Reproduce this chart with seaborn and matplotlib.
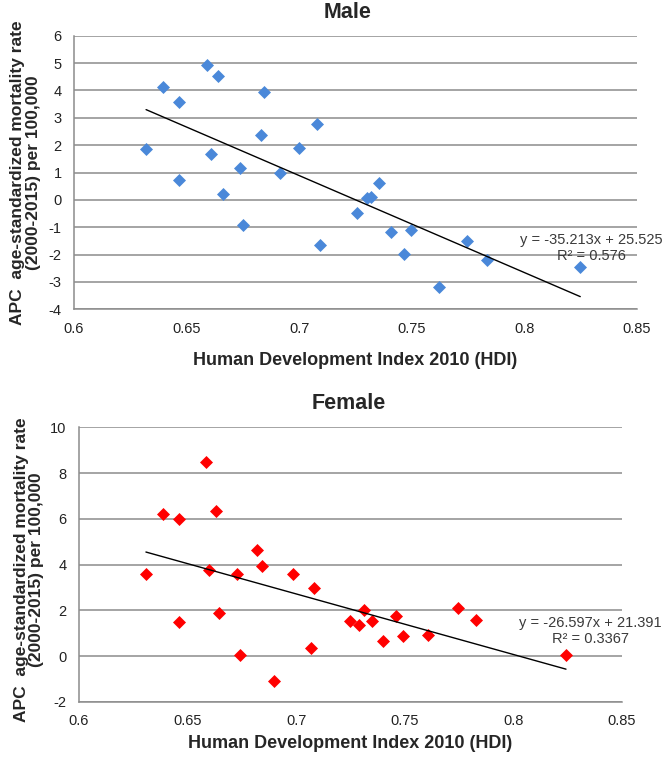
import matplotlib
matplotlib.use("Agg")
import matplotlib.pyplot as plt
import seaborn as sns

# values (HDI 2010 vs APC of mortality rate)
male_hdi = [0.632, 0.6397, 0.6468, 0.6468, 0.6589, 0.6639, 0.6608, 0.6663,
            0.6737, 0.6752, 0.6829, 0.6845, 0.6913, 0.7001, 0.7079, 0.7091,
            0.7258, 0.7300, 0.7319, 0.7356, 0.7408, 0.7496, 0.7464, 0.7619,
            0.7747, 0.7835, 0.8248]
male_apc = [1.85, 4.11, 3.59, 0.73, 4.92, 4.53, 1.68, 0.20,
            1.15, -0.92, 2.36, 3.95, 0.99, 1.88, 2.78, -1.66,
            -0.49, 0.06, 0.12, 0.62, -1.17, -1.11, -1.98, -3.20,
            -1.49, -2.20, -2.45]

female_hdi = [0.6308, 0.6388, 0.6462, 0.6462, 0.6583, 0.6629, 0.6600, 0.6646,
              0.6726, 0.6743, 0.6821, 0.6843, 0.6899, 0.6987, 0.7082, 0.7067,
              0.7248, 0.7288, 0.7311, 0.7351, 0.7401, 0.7459, 0.7490, 0.7608,
              0.7743, 0.7829, 0.8242]
female_apc = [3.60, 6.20, 5.99, 1.49, 8.48, 6.33, 3.77, 1.89,
              3.60, 0.04, 4.62, 3.92, -1.11, 3.60, 2.97, 0.35,
              1.51, 1.36, 2.02, 1.51, 0.67, 1.77, 0.86, 0.92,
              2.08, 1.58, 0.04]

x_ticks = [0.6, 0.65, 0.7, 0.75, 0.8, 0.85]
x_tick_labels = ["0.6", "0.65", "0.7", "0.75", "0.8", "0.85"]
male_yticks = [-4, -3, -2, -1, 0, 1, 2, 3, 4, 5, 6]
female_yticks = [-2, 0, 2, 4, 6, 8, 10]

male_eq = "y = -35.213x + 25.525\nR² = 0.576"
female_eq = "y = -26.597x + 21.391\nR² = 0.3367"

x_label = "Human Development Index 2010 (HDI)"
y_label = "APC  age-standardized mortality rate\n(2000-2015) per 100,000"

BOLD_FONT = ["Liberation Sans Narrow", "Liberation Sans", "DejaVu Sans"]
GRID = "#8c8c8c"


def plot_panel(ax, hdi, apc, color, yticks, eq, eq_xy, xlab_y, ylab_xy):
    """Scatter of APC vs HDI with a linear trend line, Excel style."""
    sns.scatterplot(x=hdi, y=apc, ax=ax, marker="D", color=color, s=44,
                    linewidth=0, zorder=3)
    sns.regplot(x=hdi, y=apc, ax=ax, scatter=False, ci=None, truncate=True,
                color="black", line_kws={"linewidth": 1.0, "zorder": 4})

    ax.set_xlim(x_ticks[0], x_ticks[-1])
    ax.set_ylim(yticks[0], yticks[-1])
    ax.set_xticks(x_ticks)
    ax.set_xticklabels(x_tick_labels)
    ax.set_yticks(yticks)
    ax.tick_params(length=0, labelsize=10.5, pad=9, colors="#222222")

    ax.yaxis.grid(True, color=GRID, linewidth=1.1)
    ax.xaxis.grid(False)
    for side in ["top", "right"]:
        ax.spines[side].set_visible(False)
    for side in ["left", "bottom"]:
        ax.spines[side].set_color(GRID)
        ax.spines[side].set_linewidth(1.1)

    ax.set_xlabel(x_label, family=BOLD_FONT, fontweight="bold", fontsize=13,
                  va="center")
    ax.xaxis.set_label_coords(0.5, xlab_y)
    ax.set_ylabel(y_label, family=BOLD_FONT, fontweight="bold", fontsize=12.5,
                  va="center", ha="center", linespacing=1.05)
    ax.yaxis.set_label_coords(*ylab_xy)

    ax.text(eq_xy[0], eq_xy[1], eq, ha="center", va="center", fontsize=10.5,
            color="#3a3a3a", linespacing=1.15, zorder=5)


sns.set_style("white")
plt.rcParams["font.family"] = ["Liberation Sans", "DejaVu Sans"]
plt.rcParams["axes.unicode_minus"] = False

fig = plt.figure(figsize=(6.68, 7.57), dpi=100)
ax_male = fig.add_axes([0.1108, 0.5914, 0.8428, 0.3614])
ax_female = fig.add_axes([0.1183, 0.0730, 0.8129, 0.3625])

plot_panel(ax_male, male_hdi, male_apc, "#4a88d9", male_yticks, male_eq,
           (0.8296, -1.76), -0.1875, (-0.086, 0.5))
plot_panel(ax_female, female_hdi, female_apc, "#ff0000", female_yticks,
           female_eq, (0.8353, 1.09), -0.154, (-0.092, 0.48))

fig.text(0.521, 0.983, "Male", ha="center", va="center", fontsize=15.5,
         fontweight="bold", family=BOLD_FONT[1:])
fig.text(0.5217, 0.467, "Female", ha="center", va="center", fontsize=15.5,
         fontweight="bold", family=BOLD_FONT[1:])

fig.savefig("out.png", dpi=100)
